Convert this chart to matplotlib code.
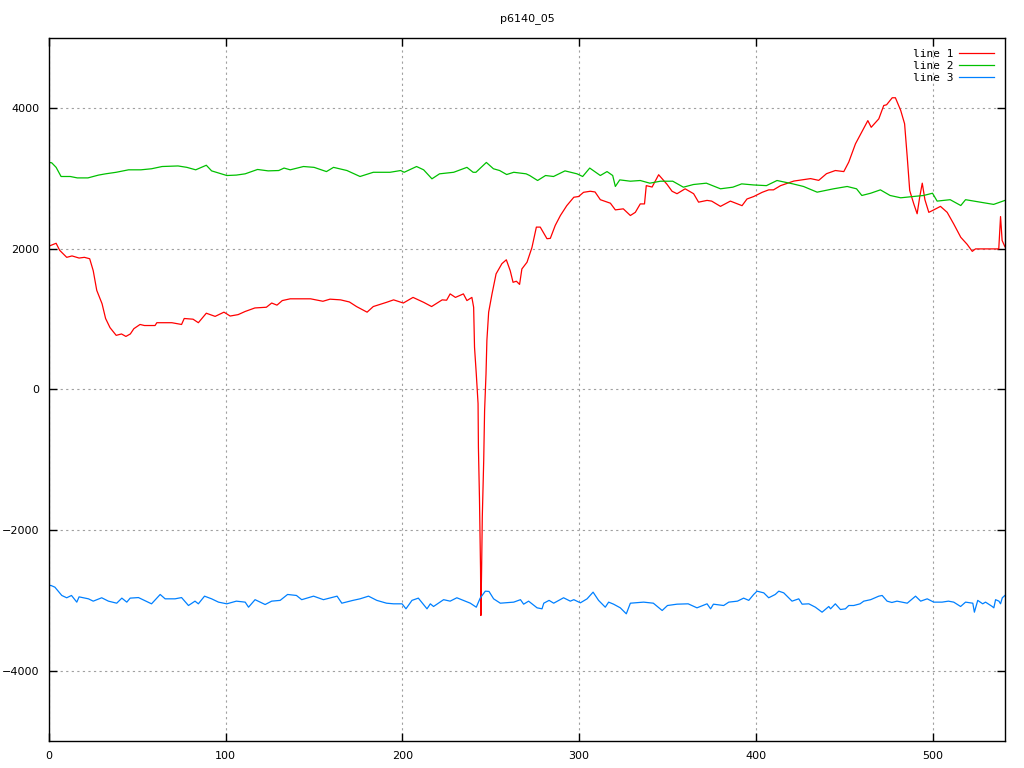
import matplotlib
matplotlib.use("Agg")
import matplotlib.pyplot as plt

# line 1 (red)
x1 = [0, 4, 6, 10, 13, 17, 20, 23, 25, 27,
      30, 32, 34.5, 38, 41, 43.5, 46, 48, 51.5, 54,
      60, 61, 69.5, 75, 76.5, 81.5, 84.5, 89, 94, 99,
      102.5, 107, 111, 116.5, 123, 126, 129, 132, 136.5, 140,
      148, 155, 159, 165, 170, 174, 180, 183.5, 191, 195,
      200.5, 206, 212, 216.5, 222.5, 225, 227, 230, 234.5, 236.5,
      239.3, 240.3, 240.8, 241.8, 242.8, 243, 243.6, 244.2, 244.4, 244.8,
      245.2, 246, 246.5, 247.3, 247.8, 248.8, 250.7, 253, 256.3, 258.8,
      261, 262.6, 264.5, 266.3, 267.6, 270.5, 273.3, 275.8, 278, 281.8,
      283.7, 286.5, 289.4, 293, 297, 299.7, 302.5, 306.3, 309, 312,
      317.7, 320.5, 325, 329, 331.8, 334.6, 337, 338, 341.3, 345,
      347.8, 349.7, 352.6, 355.4, 360, 364.8, 367.6, 372.4, 375, 380,
      385.6, 392.2, 395, 398.8, 403.6, 407.3, 410, 414, 421.5, 431,
      435.6, 440, 445, 449.8, 452.6, 456.4, 461, 463.4, 465.3, 469.6,
      472.4, 474, 477.2, 479, 482, 484.2, 485.7, 487.1, 489.4, 491.3,
      492.8, 494.2, 495.7, 497.9, 500.7, 504.5, 508.3, 512, 516, 519.6,
      522.5, 524.3, 537.5, 538.5, 539.4, 541]
y1 = [2040, 2080, 1980, 1880, 1900, 1870, 1880, 1860, 1690, 1410,
      1220, 1010, 880, 770, 790, 755, 790, 865, 925, 910,
      910, 950, 950, 925, 1010, 1000, 950, 1085, 1040, 1100,
      1045, 1065, 1110, 1160, 1170, 1230, 1200, 1265, 1290, 1290,
      1290, 1255, 1285, 1275, 1245, 1180, 1100, 1180, 1240, 1275,
      1230, 1310, 1240, 1180, 1275, 1270, 1360, 1310, 1360, 1265,
      1310, 1170, 600, 220, -200, -820, -1550, -2550, -3215, -2575,
      -1815, -1010, -300, 220, 700, 1100, 1360, 1645, 1790, 1845,
      1690, 1525, 1540, 1495, 1715, 1810, 2020, 2310, 2310, 2145,
      2150, 2335, 2475, 2615, 2735, 2745, 2805, 2820, 2810, 2700,
      2650, 2555, 2570, 2475, 2520, 2640, 2640, 2900, 2880, 3055,
      2975, 2920, 2820, 2785, 2855, 2785, 2665, 2690, 2680, 2605,
      2680, 2615, 2710, 2745, 2805, 2840, 2840, 2900, 2965, 3000,
      2975, 3070, 3115, 3100, 3235, 3495, 3710, 3825, 3730, 3850,
      4040, 4050, 4150, 4150, 3970, 3780, 3305, 2830, 2640, 2500,
      2745, 2935, 2700, 2520, 2555, 2605, 2520, 2355, 2165, 2065,
      1965, 2000, 2000, 2460, 2120, 2030]

# line 2 (green)
x2 = [0, 1.5, 4, 6.8, 12, 16, 22, 28, 32, 38,
      45, 52, 58, 64, 73, 78, 83, 89, 92, 100.6,
      106, 111, 118, 124, 130, 133, 136.5, 144, 150, 157,
      161, 168.6, 176, 183.5, 193, 199, 201, 208, 212, 216.7,
      221, 229, 236.5, 240, 241.6, 247.5, 251.5, 255, 259, 263,
      270, 272, 276.5, 281, 285.5, 292, 298.8, 302, 306, 312,
      315.8, 319, 320.5, 323, 329, 334.6, 340, 346, 353, 359,
      364.7, 372, 380, 387, 392, 398.6, 406, 412, 421, 427,
      434.7, 444, 451.7, 457, 460, 465, 470.5, 476, 482, 489,
      495, 500, 502.6, 510, 516, 518.7, 527, 534.6, 541]
y2 = [3230, 3225, 3160, 3030, 3030, 3010, 3010, 3050, 3068, 3090,
      3125, 3125, 3140, 3172, 3180, 3160, 3125, 3190, 3110, 3044,
      3050, 3068, 3130, 3110, 3115, 3150, 3125, 3172, 3160, 3100,
      3160, 3115, 3030, 3090, 3090, 3115, 3090, 3172, 3125, 2997,
      3068, 3090, 3160, 3090, 3090, 3230, 3140, 3115, 3058, 3090,
      3068, 3044, 2973, 3044, 3030, 3110, 3068, 3030, 3150, 3044,
      3100, 3044, 2888, 2982, 2963, 2973, 2935, 2963, 2963, 2878,
      2916, 2935, 2855, 2878, 2925, 2910, 2900, 2973, 2925, 2888,
      2807, 2855, 2888, 2855, 2760, 2792, 2840, 2760, 2727, 2745,
      2760, 2792, 2680, 2700, 2617, 2700, 2665, 2633, 2690]

# line 3 (blue)
x3 = [0, 1.1, 3.3, 7.2, 10, 12.7, 15.7, 17, 22.3, 25,
      29.8, 33.6, 38.3, 41.2, 44, 45.9, 50.6, 58, 62.9, 65.7,
      71.3, 75, 78.9, 82.6, 84.5, 88, 92, 95.9, 100.6, 106,
      111, 112.9, 116.6, 122.3, 126, 130.8, 135, 140, 143, 149.7,
      155.3, 163, 165.7, 172, 176, 180.8, 185.5, 191, 195, 199.8,
      202, 205.4, 209, 213.9, 215.8, 217.6, 223.3, 227, 230.8, 238.4,
      241.8, 244, 246.9, 249, 251.6, 255.4, 263, 266.8, 268.6, 271.4,
      276.2, 279, 280, 283, 285.6, 291.2, 295, 297, 300.7, 304.5,
      307.9, 311, 314.8, 316.7, 319.5, 323.3, 326.7, 329, 336.5, 342,
      347, 350, 355.4, 361.7, 366.7, 372.4, 374.4, 376, 381.8, 384.7,
      389.6, 393.1, 396, 398.8, 400.7, 404.5, 407.3, 411, 413, 415.8,
      420.5, 424.3, 426.2, 430, 433.7, 437.5, 441.3, 442.3, 445, 447.9,
      450.7, 452.6, 455.4, 459, 461.1, 465, 469.6, 471.5, 474.3, 477,
      479.9, 485.7, 490.4, 493.3, 497, 500.7, 505.4, 509, 512, 515.9,
      518.7, 522.8, 523.7, 525.6, 528.4, 530, 533.8, 534.7, 535.7, 537.6,
      538.5, 539.5, 541]
y3 = [-2790, -2788, -2812, -2930, -2963, -2930, -3025, -2950, -2978, -3011,
      -2963, -3011, -3040, -2968, -3025, -2968, -2960, -3049, -2916, -2978,
      -2978, -2960, -3073, -3011, -3049, -2940, -2978, -3025, -3049, -3011,
      -3025, -3097, -2990, -3059, -3011, -3000, -2916, -2930, -2990, -2940,
      -2990, -2940, -3040, -3000, -2978, -2940, -3000, -3040, -3049, -3049,
      -3120, -3000, -2968, -3120, -3049, -3087, -2990, -3011, -2963, -3040,
      -3097, -2968, -2869, -2873, -2978, -3040, -3025, -2990, -3054, -3011,
      -3106, -3120, -3040, -3000, -3040, -2963, -3011, -2990, -3035, -2978,
      -2883, -3000, -3097, -3025, -3054, -3106, -3191, -3040, -3025, -3040,
      -3144, -3073, -3054, -3049, -3106, -3049, -3120, -3054, -3073, -3025,
      -3011, -2968, -3000, -2916, -2869, -2893, -2963, -2916, -2869, -2893,
      -3011, -2978, -3054, -3049, -3097, -3168, -3087, -3120, -3049, -3130,
      -3120, -3073, -3073, -3049, -3011, -2990, -2940, -2930, -3011, -3030,
      -3011, -3040, -2940, -3011, -2978, -3025, -3025, -3011, -3025, -3087,
      -3025, -3040, -3168, -3000, -3049, -3025, -3087, -3106, -2990, -3011,
      -3049, -2963, -2930]

x_ticks = [0, 100, 200, 300, 400, 500]
y_ticks = [-4000, -2000, 0, 2000, 4000]

plt.rcParams['font.family'] = ['DejaVu Sans']
fig = plt.figure(figsize=(10.24, 7.68), dpi=100)
ax = fig.add_axes([0.0479, 0.0352, 0.9335, 0.9153])

ax.plot(x1, y1, color='#ff0000', lw=0.9, label='line 1')
ax.plot(x2, y2, color='#00c000', lw=0.9, label='line 2')
ax.plot(x3, y3, color='#0080ff', lw=0.9, label='line 3')

ax.set_xlim(0, 541)
ax.set_ylim(-5000, 5000)
ax.set_xticks(x_ticks)
ax.set_yticks(y_ticks)
ax.grid(True, color='#a0a0a0', linestyle=(0, (2, 3)), lw=0.8)
ax.tick_params(direction='in', length=6, width=1, labelsize=8,
               top=True, right=True, pad=7)
for s in ax.spines.values():
    s.set_linewidth(1)

ax.set_title('p6140_05', fontsize=8, pad=12)
ax.legend(loc='upper right', frameon=False, markerfirst=False,
          prop={'family': 'DejaVu Sans Mono', 'size': 8},
          handlelength=3.2, labelspacing=0.2,
          borderaxespad=0.45, handletextpad=0.5, borderpad=0.5)

fig.savefig('out.png', dpi=100)
